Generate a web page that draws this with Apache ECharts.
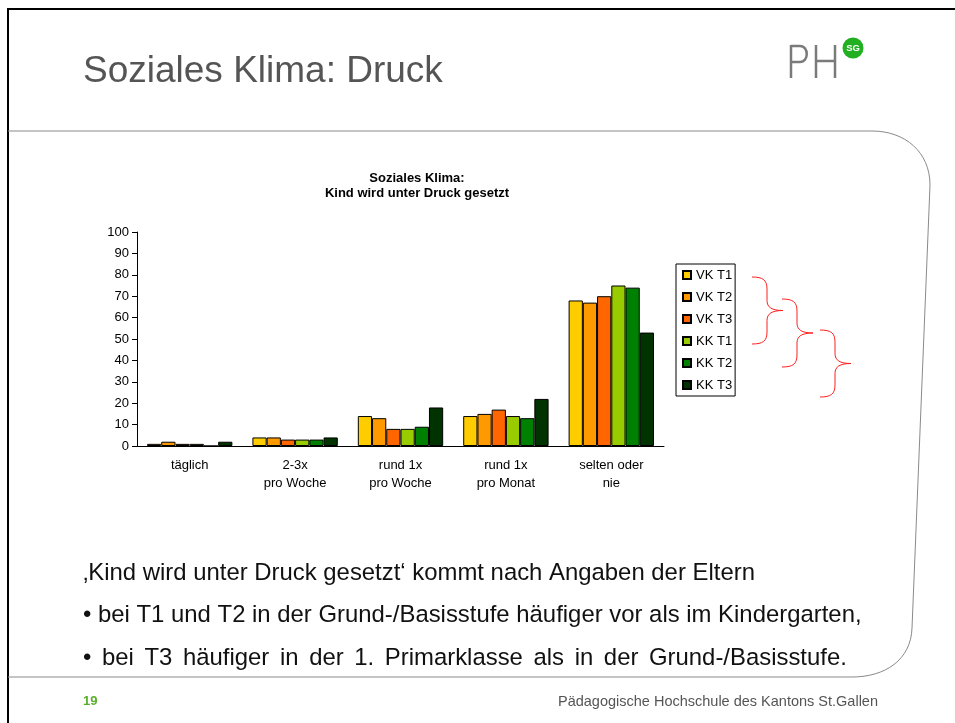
<!DOCTYPE html>
<html>
<head>
<meta charset="utf-8">
<script src="https://cdn.jsdelivr.net/npm/echarts@6/dist/echarts.min.js"></script>
<style>
  html, body { margin: 0; padding: 0; background: #fff; }
  #chart { width: 955px; height: 723px; }
</style>
</head>
<body>
<div id="chart"></div>
<script>
var categories = ['täglich', '2-3x\npro Woche', 'rund 1x\npro Woche', 'rund 1x\npro Monat', 'selten oder\nnie']
var seriesNames = ['VK T1', 'VK T2', 'VK T3', 'KK T1', 'KK T2', 'KK T3']
var seriesColors = ['#FFCC00', '#FF9900', '#FF6600', '#99CC00', '#008000', '#003300']
var vkT1 = [1, 4, 14, 14, 68]
var vkT2 = [2, 4, 13, 15, 67]
var vkT3 = [1, 3, 8, 17, 70]
var kkT1 = [1, 3, 8, 14, 75]
var kkT2 = [0, 3, 9, 13, 74]
var kkT3 = [2, 4, 18, 22, 53]
var seriesValues = [vkT1, vkT2, vkT3, kkT1, kkT2, kkT3]

var font = 'Liberation Sans, Arial, sans-serif'

function line (x1, y1, x2, y2, color, width) {
    return { type: 'line', shape: { x1: x1, y1: y1, x2: x2, y2: y2 }, style: { stroke: color, lineWidth: width } }
}
function curve (x1, y1, c1x, c1y, c2x, c2y, x2, y2, color, width) {
    return {
        type: 'bezierCurve',
        shape: { x1: x1, y1: y1, cpx1: c1x, cpy1: c1y, cpx2: c2x, cpy2: c2y, x2: x2, y2: y2 },
        style: { stroke: color, lineWidth: width, fill: null }
    }
}
function text (x, y, str, size, color, extra) {
    var el = {
        type: 'text', x: x, y: y,
        style: { text: str, fontSize: size, fontFamily: font, fill: color, verticalAlign: 'middle', align: 'left' }
    }
    if (extra) Object.assign(el.style, extra)
    return el
}
// red curly brace, opening to the left
function brace (x0, y0, y1) {
    var xv = x0 + 15, xt = x0 + 31, ym = (y0 + y1) / 2, c = '#ff2020'
    return [
        curve(x0, y0, x0 + 11, y0, xv, y0 + 3, xv, y0 + 12, c, 1),
        line(xv, y0 + 12, xv, ym - 10, c, 1),
        curve(xv, ym - 10, xv, ym - 3, xv + 5, ym, xt, ym, c, 1),
        curve(xt, ym, xv + 5, ym, xv, ym + 3, xv, ym + 10, c, 1),
        line(xv, ym + 10, xv, y1 - 12, c, 1),
        curve(xv, y1 - 12, xv, y1 - 3, x0 + 11, y1, x0, y1, c, 1)
    ]
}

// last bullet is set a little wider in the slide
var line3 = '\u2022 bei T3 häufiger in der 1. Primarklasse als in der Grund-/Basisstufe.'.replace(/ /g, ' \u2006')

var frame = '#8a8a8a'
var logo = '#7a7a7a'
var graphics = [
    line(7, 9, 955, 9, '#000', 2),
    line(8, 8, 8, 723, '#000', 2),
    line(8, 131, 872, 131, frame, 1),
    curve(872, 131, 905, 131, 930, 152, 930, 185, frame, 1),
    line(930, 185, 912, 628, frame, 1),
    curve(912, 628, 911, 660, 885, 677, 852, 677, frame, 1),
    line(852, 677, 8, 677, frame, 1),
    text(83, 72, 'Soziales Klima: Druck', 37, '#555'),
    // logo
    line(791, 45, 791, 78, logo, 2.5),
    line(791, 46, 800, 46, logo, 2.5),
    curve(800, 46, 809, 46, 809, 62, 800, 62, logo, 2.5),
    line(800, 62, 791, 62, logo, 2.5),
    line(816, 45, 816, 78, logo, 2.5),
    line(835, 45, 835, 78, logo, 2.5),
    line(816, 61, 835, 61, logo, 2.5),
    { type: 'circle', shape: { cx: 853, cy: 48, r: 10.5 }, style: { fill: '#22b022' } },
    text(853, 48, 'SG', 9.5, '#fff', { align: 'center', fontWeight: 'bold' }),
    // body text
    text(83, 573, '\u201AKind wird unter Druck gesetzt\u2018 kommt nach Angaben der Eltern', 23.9, '#111'),
    text(83, 615, '\u2022 bei T1 und T2 in der Grund-/Basisstufe häufiger vor als im Kindergarten,', 23.9, '#111'),
    text(83, 658, line3, 23.9, '#111'),
    text(83, 701, '19', 13, '#5aaf2a', { fontWeight: 'bold' }),
    text(878, 702, 'Pädagogische Hochschule des Kantons St.Gallen', 14.5, '#555', { align: 'right' })
]
graphics = graphics.concat(brace(752, 277, 344), brace(782, 299, 367), brace(820, 330, 397))

var series = seriesNames.map(function (name, i) {
    return {
        name: name,
        type: 'bar',
        barGap: '0%',
        barCategoryGap: '19%',
        itemStyle: { color: seriesColors[i], borderColor: '#000', borderWidth: 1 },
        data: seriesValues[i]
    }
})

var option = {
    animation: false,
    backgroundColor: '#fff',
    title: {
        text: 'Soziales Klima:\nKind wird unter Druck gesetzt',
        left: 412,
        top: 166,
        textAlign: 'center',
        textStyle: { fontSize: 13, fontWeight: 'bold', fontFamily: font, color: '#000', lineHeight: 15 }
    },
    legend: {
        orient: 'vertical',
        left: 676,
        top: 264,
        icon: 'rect',
        itemWidth: 8,
        itemHeight: 8,
        itemGap: 8,
        padding: [4, 3, 4, 6],
        borderColor: '#000',
        borderWidth: 1,
        textStyle: { fontSize: 13, fontFamily: font, color: '#000', lineHeight: 14 },
        data: seriesNames
    },
    grid: { left: 137, top: 232, width: 527, height: 214 },
    xAxis: {
        type: 'category',
        data: categories,
        axisLine: { lineStyle: { color: '#000' } },
        axisTick: { length: 5, lineStyle: { color: '#000' } },
        axisLabel: { fontSize: 13, fontFamily: font, color: '#000', lineHeight: 18, margin: 10 }
    },
    yAxis: {
        type: 'value',
        min: 0,
        max: 100,
        interval: 10,
        splitLine: { show: false },
        axisLine: { show: true, lineStyle: { color: '#000' } },
        axisTick: { show: true, length: 5, lineStyle: { color: '#000' } },
        axisLabel: { fontSize: 13, fontFamily: font, color: '#000', margin: 8 }
    },
    graphic: graphics,
    series: series
}

var myChart = echarts.init(document.getElementById('chart'))
myChart.setOption(option)
</script>
</body>
</html>
